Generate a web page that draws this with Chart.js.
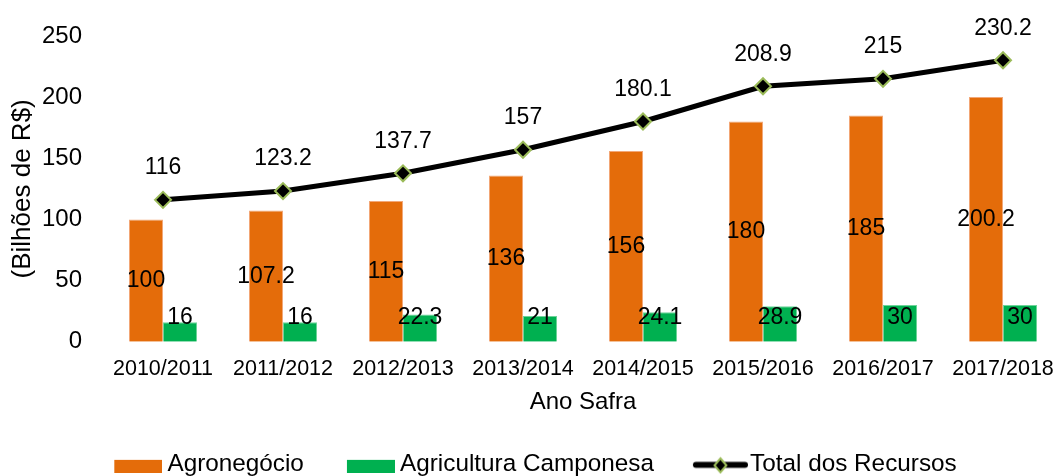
<!DOCTYPE html>
<html>
<head>
<meta charset="utf-8">
<script src="https://cdn.jsdelivr.net/npm/chart.js@4.4.1/dist/chart.umd.min.js"></script>
<style>
  html, body { margin: 0; padding: 0; overflow: hidden; background: #fff; }
  #wrap { position: relative; width: 1063px; height: 486px; }
</style>
</head>
<body>
<div id="wrap"><canvas id="c"></canvas></div>
<script>
const categories = ['2010/2011', '2011/2012', '2012/2013', '2013/2014', '2014/2015', '2015/2016', '2016/2017', '2017/2018'];
const agronegocio = [100, 107.2, 115, 136, 156, 180, 185, 200.2];
const camponesa = [16, 16, 22.3, 21, 24.1, 28.9, 30, 30];
const totalRecursos = [116, 123.2, 137.7, 157, 180.1, 208.9, 215, 230.2];
const yTicks = [0, 50, 100, 150, 200, 250];
const seriesNames = ['Agronegócio', 'Agricultura Camponesa', 'Total dos Recursos'];
const axisTitles = { x: 'Ano Safra', y: '(Bilhões de R$)' };

const ORANGE = '#E46C0A';
const GREEN = '#00B050';
const MARKER_EDGE = '#9BBB59';
const FONT = '"Liberation Sans", Arial, sans-serif';
const GREEN_LABEL_LEVEL = 19.6;

function makeBoxImage(color) {
  const c = document.createElement('canvas');
  c.width = 63; c.height = 18;
  const g = c.getContext('2d');
  g.fillStyle = color;
  g.fillRect(15, 5, 48, 13);
  return c;
}
function makeLineImage() {
  const c = document.createElement('canvas');
  c.width = 69; c.height = 21;
  const g = c.getContext('2d');
  g.strokeStyle = '#000';
  g.lineWidth = 6;
  g.lineCap = 'round';
  g.beginPath(); g.moveTo(17, 11.5); g.lineTo(66, 11.5); g.stroke();
  const cx = 41.5, cy = 12, r = 7;
  g.beginPath();
  g.moveTo(cx, cy - r); g.lineTo(cx + r * 0.85, cy); g.lineTo(cx, cy + r); g.lineTo(cx - r * 0.85, cy); g.closePath();
  g.fillStyle = '#000'; g.fill();
  g.lineWidth = 2; g.strokeStyle = MARKER_EDGE; g.stroke();
  return c;
}
const legendImages = [makeBoxImage(ORANGE), makeBoxImage(GREEN), makeLineImage()];

const valueLabels = {
  id: 'valueLabels',
  afterDatasetsDraw(chart) {
    const ctx = chart.ctx;
    const yScale = chart.scales.y;
    ctx.save();
    ctx.font = '23px ' + FONT;
    ctx.fillStyle = '#000';
    ctx.textAlign = 'center';
    ctx.textBaseline = 'middle';
    chart.data.datasets.forEach((ds, di) => {
      const meta = chart.getDatasetMeta(di);
      meta.data.forEach((el, i) => {
        const v = ds.data[i];
        let x = el.x, y;
        if (ds.labelMode === 'center') {
          y = (el.y + el.base) / 2;
        } else if (ds.labelMode === 'level') {
          y = yScale.getPixelForValue(GREEN_LABEL_LEVEL);
        } else {
          y = el.y - 32;
        }
        ctx.fillText(String(v), x, y);
      });
    });
    ctx.restore();
  }
};

new Chart(document.getElementById('c'), {
  type: 'bar',
  data: {
    labels: categories,
    datasets: [
      {
        label: seriesNames[0], data: agronegocio, backgroundColor: ORANGE,
        borderColor: '#F2A878', borderWidth: 1,
        categoryPercentage: 0.567, barPercentage: 1.0, order: 1, labelMode: 'center'
      },
      {
        label: seriesNames[1], data: camponesa, backgroundColor: GREEN,
        borderColor: '#6FD39A', borderWidth: 1,
        categoryPercentage: 0.567, barPercentage: 1.0, order: 2, labelMode: 'level'
      },
      {
        type: 'line', label: seriesNames[2], data: totalRecursos,
        borderColor: '#000', borderWidth: 5, backgroundColor: '#000',
        pointStyle: 'rectRot', pointRadius: 8, pointHoverRadius: 8,
        pointBackgroundColor: '#000', pointBorderColor: MARKER_EDGE, pointBorderWidth: 2,
        tension: 0, order: 0, labelMode: 'above', clip: false
      }
    ]
  },
  options: {
    responsive: true,
    maintainAspectRatio: false,
    animation: false,
    layout: { autoPadding: false, padding: { top: 36, left: 0, right: 0, bottom: 0 } },
    plugins: {
      tooltip: { enabled: false },
      legend: {
        position: 'bottom',
        labels: {
          usePointStyle: true,
          pointStyleWidth: 49,
          padding: 35,
          color: '#000',
          font: { family: FONT, size: 24.3 },
          generateLabels: () => seriesNames.map((name, i) => ({
            text: name, pointStyle: legendImages[i], datasetIndex: i,
            hidden: false, fillStyle: 'transparent', strokeStyle: 'transparent', lineWidth: 0, fontColor: '#000'
          }))
        }
      }
    },
    scales: {
      x: {
        grid: { display: false, drawTicks: false },
        border: { display: false },
        ticks: { color: '#000', font: { family: FONT, size: 21.5 }, padding: 14, maxRotation: 0, autoSkip: false },
        title: { display: true, text: axisTitles.x, color: '#000', font: { family: FONT, size: 24 }, padding: { top: 0, bottom: 0 } },
        afterFit: (s) => { s.height = 75; s.paddingLeft = 0; s.paddingRight = 0; }
      },
      y: {
        min: 0, max: 250,
        afterBuildTicks: (s) => { s.ticks = yTicks.map(v => ({ value: v })); },
        grid: { display: false, drawTicks: false },
        border: { display: false },
        ticks: { color: '#000', font: { family: FONT, size: 24 }, padding: 21 },
        title: { display: true, text: axisTitles.y, color: '#000', font: { family: FONT, size: 26 }, padding: { top: 7, bottom: 0 } },
        afterFit: (s) => { s.width = 103; }
      }
    }
  },
  plugins: [valueLabels]
});
</script>
</body>
</html>
